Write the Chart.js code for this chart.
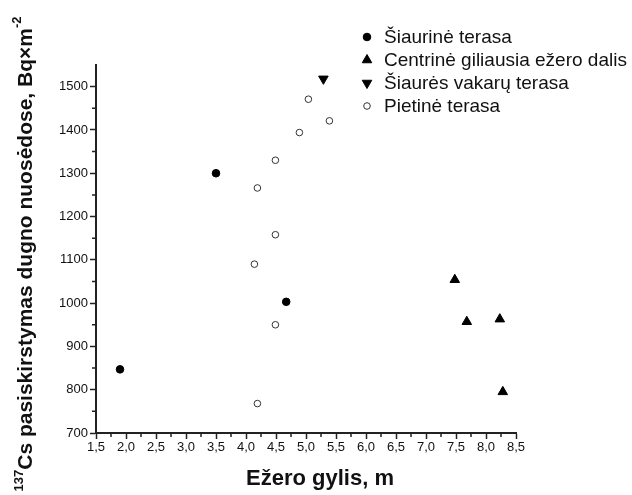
<!DOCTYPE html>
<html>
<head>
<meta charset="utf-8">
<script src="https://cdn.jsdelivr.net/npm/chart.js@4.4.1/dist/chart.umd.min.js"></script>
<style>
  html, body { margin: 0; padding: 0; background: #fff; }
  #wrap { width: 632px; height: 495px; }
</style>
</head>
<body>
<div id="wrap"><canvas id="myChart" width="632" height="495"></canvas></div>
<script>
const seriesNames = ['Šiaurinė terasa', 'Centrinė giliausia ežero dalis', 'Šiaurės vakarų terasa', 'Pietinė terasa'];

// depth (m) / activity (Bq×m-2) per series
const siaurineX = [1.9, 3.5, 4.67];
const siaurineY = [847, 1300, 1003];
const centrineX = [7.48, 7.68, 8.23, 8.28];
const centrineY = [1054, 957, 963, 795];
const vakaruX = [5.29];
const vakaruY = [1518];
const pietineX = [5.04, 5.39, 4.89, 4.49, 4.19, 4.49, 4.14, 4.49, 4.19];
const pietineY = [1471, 1421, 1394, 1330, 1266, 1158, 1090, 950, 768];

const xTicks = [1.5, 2, 2.5, 3, 3.5, 4, 4.5, 5, 5.5, 6, 6.5, 7, 7.5, 8, 8.5];
const xMinor = [1.75, 2.25, 2.75, 3.25, 3.75, 4.25, 4.75, 5.25, 5.75, 6.25, 6.75, 7.25, 7.75, 8.25];
const yTicks = [700, 800, 900, 1000, 1100, 1200, 1300, 1400, 1500];
const yMinor = [750, 850, 950, 1050, 1150, 1250, 1350, 1450];

const pts = (xs, ys) => xs.map((x, i) => ({ x: x, y: ys[i] }));

Chart.defaults.font.family = '"Liberation Sans", Arial, sans-serif';
Chart.defaults.color = '#111';

const ink = '#222';

// minor ticks, legend and axis titles
const extras = {
  id: 'extras',
  afterDraw(chart) {
    const { ctx, chartArea } = chart;
    const x = chart.scales.x, y = chart.scales.y;
    ctx.save();

    ctx.strokeStyle = ink;
    ctx.lineWidth = 1.5;
    ctx.beginPath();
    xMinor.forEach(v => {
      const px = x.getPixelForValue(v);
      ctx.moveTo(px, chartArea.bottom);
      ctx.lineTo(px, chartArea.bottom + 4);
    });
    yMinor.forEach(v => {
      const py = y.getPixelForValue(v);
      ctx.moveTo(chartArea.left, py);
      ctx.lineTo(chartArea.left - 4, py);
    });
    ctx.stroke();

    // legend
    const rows = [37, 60, 83, 106];
    chart.data.datasets.forEach((ds, i) => {
      ctx.fillStyle = ds.backgroundColor;
      ctx.strokeStyle = ds.borderColor;
      ctx.lineWidth = ds.borderWidth;
      Chart.helpers.drawPoint(ctx, {
        pointStyle: ds.pointStyle,
        rotation: ds.rotation || 0,
        radius: ds.pointRadius,
        borderWidth: ds.borderWidth
      }, 367, rows[i]);
      ctx.fillStyle = '#111';
      ctx.font = '19px "Liberation Sans", Arial, sans-serif';
      ctx.textAlign = 'left';
      ctx.textBaseline = 'middle';
      ctx.fillText(ds.label, 384, rows[i] + 1);
    });

    // x title
    ctx.fillStyle = '#111';
    ctx.font = 'bold 22px "Liberation Sans", Arial, sans-serif';
    ctx.textAlign = 'center';
    ctx.textBaseline = 'middle';
    ctx.fillText('Ežero gylis, m', 320, 479);

    // y title with superscripts
    ctx.translate(26, 254);
    ctx.rotate(-Math.PI / 2);
    const big = 'bold 21px "Liberation Sans", Arial, sans-serif';
    const small = 'bold 13px "Liberation Sans", Arial, sans-serif';
    const parts = [['137', small, -7], ['Cs pasiskirstymas dugno nuosėdose, Bq×m', big, 0], ['-2', small, -9]];
    let total = 0;
    parts.forEach(p => { ctx.font = p[1]; total += ctx.measureText(p[0]).width; });
    let cx = -total / 2;
    ctx.textAlign = 'left';
    parts.forEach(p => {
      ctx.font = p[1];
      ctx.fillText(p[0], cx, p[2]);
      cx += ctx.measureText(p[0]).width;
    });

    ctx.restore();
  }
};

new Chart(document.getElementById('myChart'), {
  type: 'scatter',
  data: {
    datasets: [
      {
        label: seriesNames[0],
        data: pts(siaurineX, siaurineY),
        pointStyle: 'circle',
        pointRadius: 3.8,
        backgroundColor: '#000',
        borderColor: '#000',
        borderWidth: 1
      },
      {
        label: seriesNames[1],
        data: pts(centrineX, centrineY),
        pointStyle: 'triangle',
        pointRadius: 5.5,
        backgroundColor: '#000',
        borderColor: '#000',
        borderWidth: 1
      },
      {
        label: seriesNames[2],
        data: pts(vakaruX, vakaruY),
        pointStyle: 'triangle',
        rotation: 180,
        pointRadius: 5.5,
        backgroundColor: '#000',
        borderColor: '#000',
        borderWidth: 1
      },
      {
        label: seriesNames[3],
        data: pts(pietineX, pietineY),
        pointStyle: 'circle',
        pointRadius: 3.3,
        backgroundColor: '#fff',
        borderColor: '#333',
        borderWidth: 1
      }
    ]
  },
  options: {
    responsive: false,
    animation: false,
    events: [],
    layout: {
      padding: { top: 65, right: 116, left: 0, bottom: 0 }
    },
    scales: {
      x: {
        type: 'linear',
        min: 1.5,
        max: 8.5,
        afterBuildTicks: s => { s.ticks = xTicks.map(v => ({ value: v })); },
        afterFit: s => { s.height = 62; },
        ticks: {
          padding: 1,
          font: { size: 13 },
          color: '#111',
          callback: v => v.toFixed(1).replace('.', ',')
        },
        grid: {
          drawOnChartArea: false,
          tickLength: 6,
          tickColor: ink,
          tickWidth: 1.5
        },
        border: { color: ink, width: 2 }
      },
      y: {
        min: 700,
        max: 1550,
        afterBuildTicks: s => { s.ticks = yTicks.map(v => ({ value: v })); },
        afterFit: s => { s.width = 96; },
        ticks: {
          padding: 2,
          font: { size: 13 },
          color: '#111',
          callback: v => String(v)
        },
        grid: {
          drawOnChartArea: false,
          tickLength: 6,
          tickColor: ink,
          tickWidth: 1.5
        },
        border: { color: ink, width: 2 }
      }
    },
    plugins: {
      legend: { display: false },
      tooltip: { enabled: false }
    }
  },
  plugins: [extras]
});
</script>
</body>
</html>
